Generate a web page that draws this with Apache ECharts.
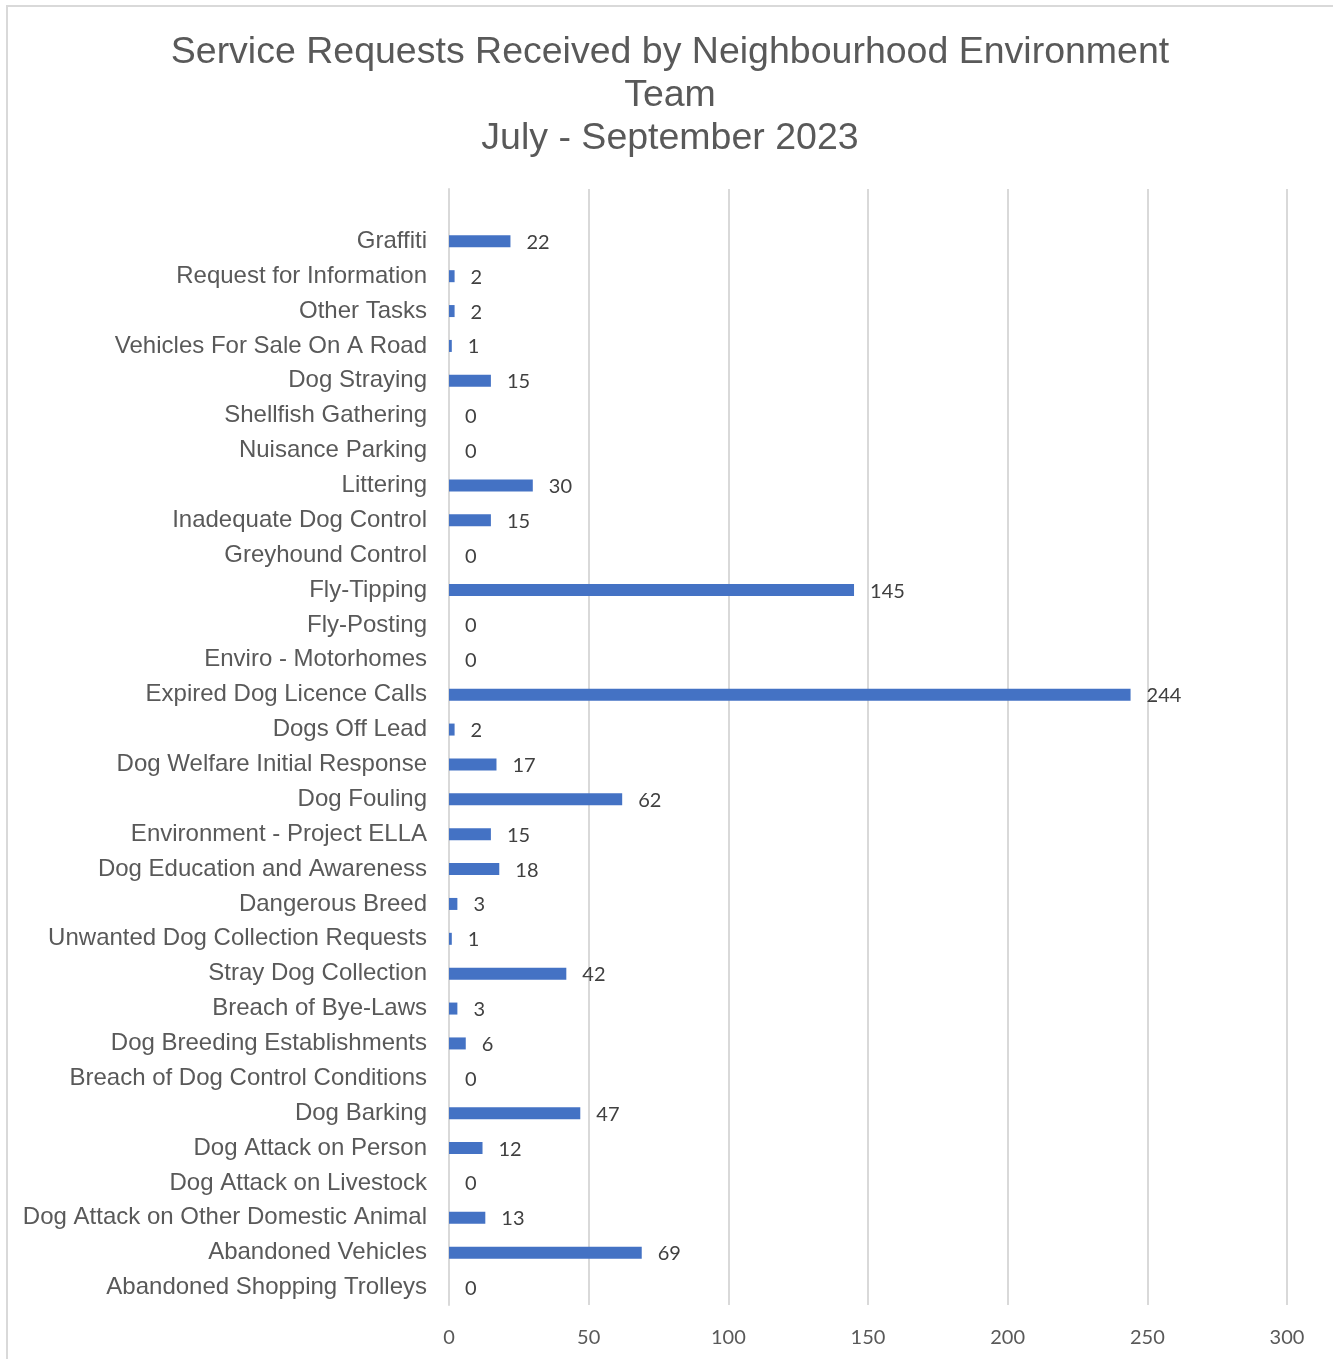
<!DOCTYPE html>
<html>
<head>
<meta charset="utf-8">
<script src="https://cdn.jsdelivr.net/npm/echarts@6/dist/echarts.min.js"></script>
<style>
  html, body { margin: 0; padding: 0; background: #fff; overflow: hidden; }
  #frame {
    position: absolute; left: 6px; top: 5px; width: 1400px; height: 1400px;
    border: 2px solid #d9d9d9; box-sizing: border-box;
  }
  #chart { position: absolute; left: 0; top: 0; width: 1333px; height: 1359px; }
</style>
</head>
<body>
<div id="frame"></div>
<div id="chart"></div>
<script>
// Request types, listed top to bottom (the leading blank row is an empty slot in the sheet)
const categories = [
  '',
  'Graffiti',
  'Request for Information',
  'Other Tasks',
  'Vehicles For Sale On A Road',
  'Dog Straying',
  'Shellfish Gathering',
  'Nuisance Parking',
  'Littering',
  'Inadequate Dog Control',
  'Greyhound Control',
  'Fly-Tipping',
  'Fly-Posting',
  'Enviro - Motorhomes',
  'Expired Dog Licence Calls',
  'Dogs Off Lead',
  'Dog Welfare Initial Response',
  'Dog Fouling',
  'Environment - Project ELLA',
  'Dog Education and Awareness',
  'Dangerous Breed',
  'Unwanted Dog Collection Requests',
  'Stray Dog Collection',
  'Breach of Bye-Laws',
  'Dog Breeding Establishments',
  'Breach of Dog Control Conditions',
  'Dog Barking',
  'Dog Attack on Person',
  'Dog Attack on Livestock',
  'Dog Attack on Other Domestic Animal',
  'Abandoned Vehicles',
  'Abandoned Shopping Trolleys'
];

// Number of requests received, same order as categories
const requests = [
  null,
  22, 2, 2, 1, 15, 0, 0, 30, 15, 0,
  145, 0, 0, 244, 2, 17, 62, 15, 18, 3,
  1, 42, 3, 6, 0, 47, 12, 0, 13, 69, 0
];

// Value axis range
const axisMin = 0;
const axisMax = 300;
const axisStep = 50;

const titleLines = [
  'Service Requests Received by Neighbourhood Environment',
  'Team',
  'July - September 2023'
];

const chart = echarts.init(document.getElementById('chart'), null, { renderer: 'canvas' });

chart.setOption({
  animation: false,
  backgroundColor: 'transparent',
  title: {
    text: titleLines.join('\n'),
    left: 665,
    top: 26,
    textAlign: 'center',
    textStyle: {
      fontFamily: '"Liberation Sans", Arial, sans-serif',
      fontSize: 37.5,
      fontWeight: 'normal',
      color: '#595959',
      lineHeight: 43
    }
  },
  grid: {
    left: 449,
    right: 46,
    top: 189,
    bottom: 54,
    containLabel: false
  },
  xAxis: {
    type: 'value',
    min: axisMin,
    max: axisMax,
    interval: axisStep,
    axisLine: { show: false },
    axisTick: { show: false },
    splitLine: { show: true, lineStyle: { color: '#d9d9d9', width: 2 } },
    axisLabel: {
      margin: 23,
      fontFamily: 'Lato, "Open Sans", sans-serif',
      fontSize: 20,
      color: '#595959'
    }
  },
  yAxis: {
    type: 'category',
    inverse: true,
    data: categories,
    axisLine: { show: true, lineStyle: { color: '#d9d9d9', width: 2 } },
    axisTick: { show: false },
    axisLabel: {
      margin: 22,
      fontFamily: '"Liberation Sans", Arial, sans-serif',
      fontSize: 24,
      color: '#595959',
      padding: [2, 0, 0, 0]
    }
  },
  series: [{
    type: 'bar',
    data: requests,
    barWidth: 12,
    itemStyle: { color: '#4472c4' },
    label: {
      show: true,
      position: 'right',
      distance: 16,
      offset: [0, 1],
      fontFamily: 'Lato, "Open Sans", sans-serif',
      fontSize: 20,
      color: '#404040'
    }
  }]
});
</script>
</body>
</html>
